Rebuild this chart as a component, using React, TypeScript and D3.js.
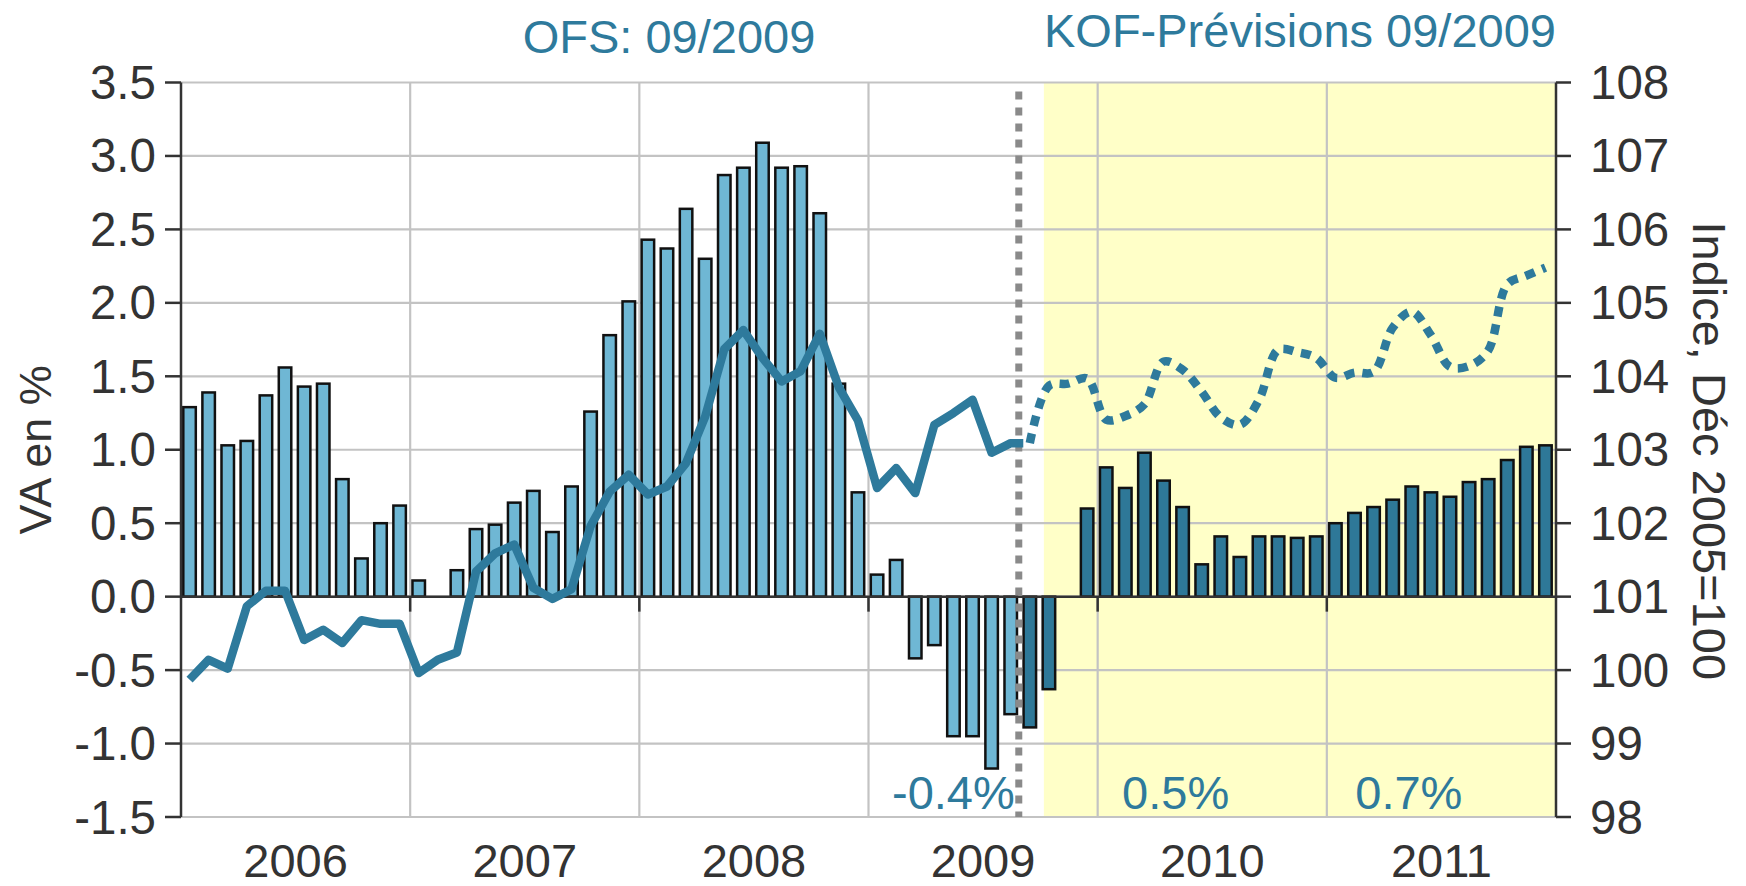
import React from 'react';
import * as d3 from 'd3';

const years = ['2006', '2007', '2008', '2009', '2010', '2011'];

// Monthly growth, VA en % (Jan 2006 .. Dec 2011)
const growth = [
  1.29, 1.39, 1.03, 1.06, 1.37, 1.56, 1.43, 1.45, 0.8, 0.26, 0.5, 0.62,
  0.11, 0.0, 0.18, 0.46, 0.49, 0.64, 0.72, 0.44, 0.75, 1.26, 1.78, 2.01,
  2.43, 2.37, 2.64, 2.3, 2.87, 2.92, 3.09, 2.92, 2.93, 2.61, 1.45, 0.71,
  0.15, 0.25, -0.42, -0.33, -0.95, -0.95, -1.17, -0.8, -0.89, -0.63, 0.0, 0.6,
  0.88, 0.74, 0.98, 0.79, 0.61, 0.22, 0.41, 0.27, 0.41, 0.41, 0.4, 0.41,
  0.5, 0.57, 0.61, 0.66, 0.75, 0.71, 0.68, 0.78, 0.8, 0.93, 1.02, 1.03,
];

// Index, Déc 2005=100, observed (Jan 2006 .. Sep 2009)
const indexObserved = [
  99.87, 100.14, 100.02, 100.87, 101.08, 101.08, 100.41, 100.55, 100.37, 100.68, 100.63, 100.63,
  99.96, 100.14, 100.24, 101.34, 101.59, 101.71, 101.12, 100.97, 101.1, 101.96, 102.43, 102.66,
  102.39, 102.5, 102.82, 103.45, 104.37, 104.63, 104.25, 103.93, 104.07, 104.58, 103.85, 103.4,
  102.48, 102.75, 102.41, 103.34, 103.5, 103.68, 102.96, 103.09, 103.09,
];

// Index forecast (Sep 2009 .. Dec 2011)
const indexForecast = [
  103.09, 103.87, 103.9, 103.97, 103.41, 103.46, 103.62, 104.2, 104.09, 103.79, 103.44, 103.34,
  103.68, 104.36, 104.33, 104.25, 103.98, 104.05, 104.06, 104.66, 104.88, 104.56, 104.13, 104.14,
  104.35, 105.25, 105.37, 105.48,
];

const forecastStart = 44; // Sep 2009
const leftTicks = [-1.5, -1.0, -0.5, 0.0, 0.5, 1.0, 1.5, 2.0, 2.5, 3.0, 3.5];
const rightTicks = [98, 99, 100, 101, 102, 103, 104, 105, 106, 107, 108];
const periodLabels = ['-0.4%', '0.5%', '0.7%'];
const titles = ['OFS: 09/2009', 'KOF-Prévisions 09/2009'];
const axisTitles = ['VA en %', 'Indice, Déc 2005=100'];

const TEAL = '#2E7A9C';
const LIGHT = '#6FB7D4';
const DARK = '#2E7898';
const TXT = '#333333';
const GRID = '#C3C3C3';
const FONT = '"Liberation Sans", Arial, Helvetica, sans-serif';

export default function App() {
  const W = 1746;
  const H = 886;
  const left = 181;
  const right = 1556;
  const top = 82.5;
  const bottom = 817;
  const n = years.length * 12;

  const x = d3.scaleBand<number>().domain(d3.range(n)).range([left, right]);
  const bw = x.bandwidth();
  const cx = (i: number) => (x(i) as number) + bw / 2 - 1;
  const yearEdge = (k: number) => (k * 12 >= n ? right : (x(k * 12) as number));
  const yL = d3.scaleLinear().domain([-1.5, 3.5]).range([bottom, top]);
  const yR = d3.scaleLinear().domain([98, 108]).range([bottom, top]);
  const barW = 12.5;
  const y0 = yL(0);

  const solid = d3
    .line<number>()
    .x((_, i) => cx(i))
    .y((d) => yR(d))
    .curve(d3.curveLinear)(indexObserved) as string;

  const dotted = d3
    .line<number>()
    .x((_, i) => cx(i + forecastStart))
    .y((d) => yR(d))
    .curve(d3.curveCatmullRom.alpha(0.5))(indexForecast) as string;

  const splitX = (x(forecastStart) as number) - 2.5;
  const yellowX = (x(forecastStart + 1) as number) + 3.5;

  return (
    <svg
      width={W}
      height={H}
      style={{ position: 'absolute', left: 0, top: 0, display: 'block', background: '#fff' }}
      fontFamily={FONT}
    >
      <defs>
        <clipPath id="clipSolid">
          <rect x={0} y={0} width={splitX + 4.5} height={H} />
        </clipPath>
      </defs>

      {/* forecast background */}
      <rect x={yellowX} y={top} width={right - yellowX} height={bottom - top} fill="#FFFFC8" />

      {/* horizontal grid */}
      {leftTicks.map((t) => (
        <line key={'hg' + t} x1={left} x2={right} y1={yL(t)} y2={yL(t)} stroke={GRID} strokeWidth={2.2} />
      ))}
      {/* vertical grid at year boundaries */}
      {years.slice(1).map((yr, k) => (
        <line
          key={'vg' + yr}
          x1={yearEdge(k + 1)}
          x2={yearEdge(k + 1)}
          y1={top}
          y2={bottom}
          stroke={GRID}
          strokeWidth={2.2}
        />
      ))}

      {/* bars */}
      {growth.map((v, i) => {
        if (v === 0) return null;
        const yv = yL(v);
        return (
          <rect
            key={'b' + i}
            x={cx(i) - barW / 2}
            y={Math.min(yv, y0)}
            width={barW}
            height={Math.abs(y0 - yv)}
            fill={i >= forecastStart ? DARK : LIGHT}
            stroke="#111"
            strokeWidth={2.5}
          />
        );
      })}

      {/* zero axis with year ticks */}
      <line x1={left} x2={right} y1={y0} y2={y0} stroke="#333" strokeWidth={2.5} />
      {years.slice(1).map((yr, k) => (
        <line
          key={'xt' + yr}
          x1={yearEdge(k + 1)}
          x2={yearEdge(k + 1)}
          y1={y0}
          y2={y0 + 15}
          stroke="#333"
          strokeWidth={2.5}
        />
      ))}

      {/* left axis */}
      <line x1={left} x2={left} y1={top} y2={bottom} stroke="#333" strokeWidth={2.5} />
      {leftTicks.map((t) => (
        <g key={'lt' + t}>
          <line x1={left - 16} x2={left} y1={yL(t)} y2={yL(t)} stroke="#333" strokeWidth={2.5} />
          <text x={156} y={yL(t) + 16.5} textAnchor="end" fontSize={47.5} fill={TXT}>
            {t.toFixed(1)}
          </text>
        </g>
      ))}

      {/* right axis */}
      <line x1={right} x2={right} y1={top} y2={bottom} stroke="#333" strokeWidth={2.5} />
      {rightTicks.map((t) => (
        <g key={'rt' + t}>
          <line x1={right} x2={right + 15} y1={yR(t)} y2={yR(t)} stroke="#333" strokeWidth={2.5} />
          <text x={1590} y={yR(t) + 16.5} textAnchor="start" fontSize={47.5} fill={TXT}>
            {t}
          </text>
        </g>
      ))}

      {/* separator dotted vertical line */}
      <line
        x1={splitX}
        x2={splitX}
        y1={top + 9}
        y2={bottom}
        stroke="#8A8A8A"
        strokeWidth={7}
        strokeDasharray="8 8"
      />

      {/* index lines */}
      <path
        d={solid}
        fill="none"
        stroke={TEAL}
        strokeWidth={8.5}
        strokeLinejoin="round"
        clipPath="url(#clipSolid)"
      />
      <path d={dotted} fill="none" stroke={TEAL} strokeWidth={8.5} strokeDasharray="10 8" />

      {/* year labels */}
      {years.map((yr, k) => (
        <text
          key={'yl' + yr}
          x={(yearEdge(k) + yearEdge(k + 1)) / 2}
          y={877}
          textAnchor="middle"
          fontSize={47}
          fill={TXT}
        >
          {yr}
        </text>
      ))}

      {/* period growth labels */}
      <text x={splitX - 4} y={809} textAnchor="end" fontSize={47} fill={TEAL}>
        {periodLabels[0]}
      </text>
      <text x={yearEdge(4) + 78} y={809} textAnchor="middle" fontSize={47} fill={TEAL}>
        {periodLabels[1]}
      </text>
      <text x={yearEdge(5) + 82} y={809} textAnchor="middle" fontSize={47} fill={TEAL}>
        {periodLabels[2]}
      </text>

      {/* titles */}
      <text x={669} y={53} textAnchor="middle" fontSize={47} fill={TEAL}>
        {titles[0]}
      </text>
      <text x={right} y={47} textAnchor="end" fontSize={47} fill={TEAL}>
        {titles[1]}
      </text>

      {/* axis titles */}
      <text
        transform={`translate(51, ${(top + bottom) / 2}) rotate(-90)`}
        textAnchor="middle"
        fontSize={45}
        fill={TXT}
      >
        {axisTitles[0]}
      </text>
      <text
        transform={`translate(1693, ${(top + bottom) / 2 + 1}) rotate(90)`}
        textAnchor="middle"
        fontSize={47}
        fill={TXT}
      >
        {axisTitles[1]}
      </text>
    </svg>
  );
}
